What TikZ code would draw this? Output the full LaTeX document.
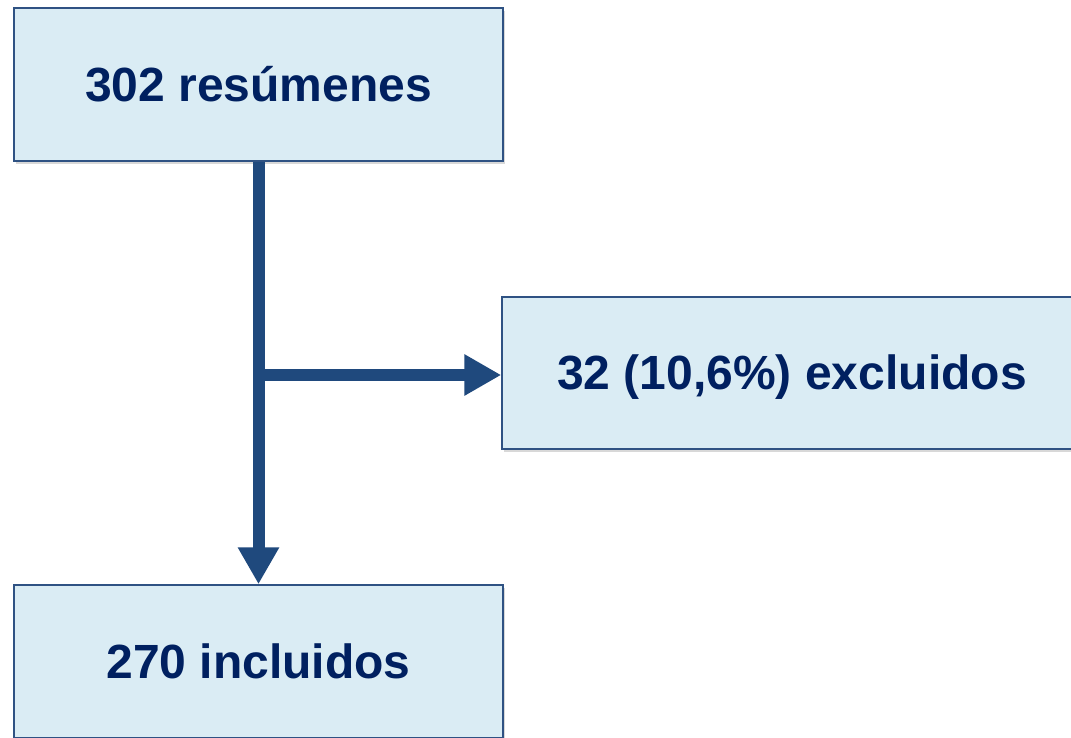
\documentclass[tikz,border=0pt]{standalone}
\usepackage{fontspec}
\setmainfont{Liberation Sans}
\usetikzlibrary{arrows.meta,shadows}
\definecolor{boxfill}{HTML}{DAECF4}
\definecolor{boxline}{HTML}{2F5283}
\definecolor{arrowc}{HTML}{1F497D}
\definecolor{textc}{HTML}{002060}
\tikzset{
  flowbox/.style={draw=boxline, line width=1.5pt, fill=boxfill, rectangle,
    inner sep=0pt, text=textc, font=\fontsize{48}{56}\selectfont\bfseries,
    drop shadow={shadow xshift=2pt, shadow yshift=-3pt, opacity=0.25, fill=black!60}},
  conn/.style={draw=arrowc, line width=12pt,
    -{Triangle[width=39pt,length=37pt,fill=arrowc]}}
}
\begin{document}
\begin{tikzpicture}[x=1pt,y=-1pt]
\useasboundingbox (0,0) rectangle (1071,738);
\clip (0,0) rectangle (1071,738);
\fill[white] (0,0) rectangle (1071,738);
\node[flowbox, minimum width=489pt, minimum height=153pt] (b1) at (258.5,84.5) {302 resúmenes};
\node[flowbox, minimum width=580pt, minimum height=152pt] (b2) at (792,373) {\raisebox{-4pt}[35pt][10pt]{32 (10,6\%) excluidos}};
\node[flowbox, minimum width=489pt, minimum height=153pt] (b3) at (258.5,661.5) {270 incluidos};
\coordinate (j) at (253,375);
\draw[conn] (b1.south) -- (b3.north);
\draw[conn] (j) -- (j -| b2.west);
\end{tikzpicture}
\end{document}
